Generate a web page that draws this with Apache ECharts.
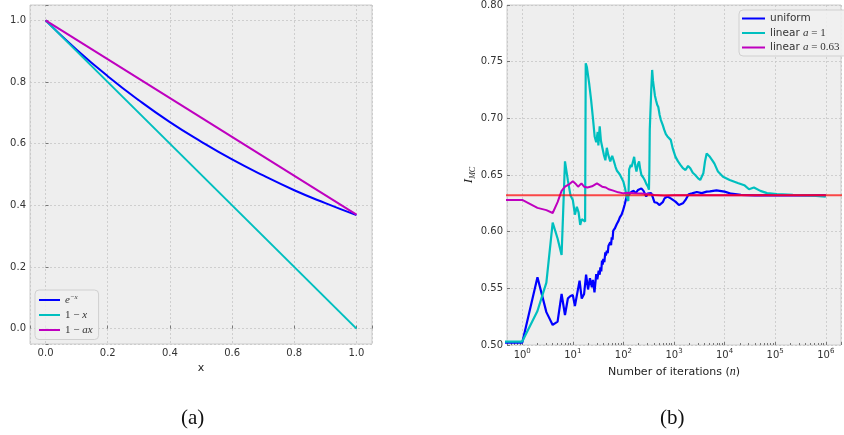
<!DOCTYPE html>
<html>
<head>
<meta charset="utf-8">
<script src="https://cdn.jsdelivr.net/npm/echarts@6/dist/echarts.min.js"></script>
<style>
  html, body { margin: 0; padding: 0; background: #fff; }
  #chart { width: 844px; height: 435px; }
</style>
</head>
<body>
<div id="chart"></div>
<script>
// (a) integrand and the two sampling densities on [0, 1]
const xs = [0, 0.1, 0.2, 0.3, 0.4, 0.5, 0.6, 0.7, 0.8, 0.9, 1.0];
const expVals = [1.0, 0.905, 0.819, 0.741, 0.670, 0.607, 0.549, 0.497, 0.449, 0.407, 0.368];
const lineXs = [0, 1];
const oneMinusX = [1, 0];
const oneMinusAx = [1, 0.37];

// (b) running estimate vs number of iterations
const uniformN = [0.3, 1, 2, 3, 4, 5, 6, 7, 8, 9, 10, 11, 13.6, 15, 16.7, 18.3, 20, 21.8, 23.8, 25, 26.8, 29, 30.5, 32.5, 34, 35, 36.5, 37.7, 39, 40, 42, 43.8, 45, 47, 49, 50.7, 53, 55, 57, 58.8, 61, 63, 68, 74, 80, 85, 92, 98, 106, 116, 130, 138, 145, 160, 175, 195, 210, 226, 250, 282, 300, 320, 354, 380, 410, 460, 512, 551, 600, 650, 742, 800, 861, 1070, 1250, 1340, 1500, 1690, 1810, 1950, 2270, 2820, 3540, 4420, 5120, 6900, 7430, 10000, 13500, 21000, 40000, 100000, 1000000];
const uniformI = [0.502, 0.502, 0.5597, 0.529, 0.5177, 0.5206, 0.545, 0.5265, 0.5412, 0.5432, 0.544, 0.5344, 0.5568, 0.541, 0.545, 0.562, 0.549, 0.559, 0.551, 0.5574, 0.5465, 0.5626, 0.558, 0.5656, 0.562, 0.5685, 0.565, 0.5744, 0.571, 0.5759, 0.573, 0.5818, 0.579, 0.5832, 0.581, 0.5876, 0.586, 0.5906, 0.588, 0.595, 0.593, 0.601, 0.603, 0.6068, 0.6095, 0.6126, 0.615, 0.6185, 0.624, 0.631, 0.633, 0.6345, 0.6353, 0.636, 0.634, 0.6368, 0.6355, 0.6382, 0.636, 0.631, 0.6335, 0.633, 0.634, 0.6305, 0.626, 0.6255, 0.6235, 0.622, 0.626, 0.6294, 0.631, 0.6298, 0.6294, 0.6265, 0.6235, 0.6238, 0.625, 0.628, 0.6294, 0.633, 0.6338, 0.635, 0.634, 0.6353, 0.6355, 0.6365, 0.636, 0.6353, 0.6335, 0.6325, 0.632, 0.6322, 0.6321];

const linearN = [0.3, 1, 2, 3, 4, 5, 6, 7, 8, 9, 10, 11, 12, 13, 14, 15, 16, 17.5, 18, 19, 21, 23, 25, 27, 29, 31, 32, 34, 36, 38, 41, 44, 47, 50, 55, 60, 64, 70, 74, 80, 86, 93, 100, 108, 116, 125, 130, 134, 140, 145, 155, 163, 172, 181, 192, 204, 215, 227, 245, 263, 285, 304, 320, 326, 332, 345, 355, 370, 385, 398, 420, 441, 465, 489, 520, 551, 600, 640, 690, 742, 800, 861, 950, 1070, 1200, 1340, 1500, 1690, 1900, 2100, 2350, 2630, 3000, 3300, 3800, 4100, 4420, 5120, 5900, 6300, 7400, 9300, 12600, 18200, 24500, 30400, 38000, 51000, 69000, 108000, 224000, 550000, 1000000];
const linearI = [0.503, 0.503, 0.530, 0.555, 0.608, 0.594, 0.5794, 0.662, 0.645, 0.632, 0.628, 0.615, 0.622, 0.617, 0.606, 0.611, 0.610, 0.609, 0.7485, 0.745, 0.731, 0.716, 0.700, 0.684, 0.679, 0.688, 0.676, 0.693, 0.680, 0.675, 0.668, 0.663, 0.674, 0.668, 0.662, 0.667, 0.663, 0.657, 0.654, 0.652, 0.650, 0.647, 0.644, 0.638, 0.631, 0.627, 0.655, 0.654, 0.659, 0.657, 0.662, 0.666, 0.658, 0.653, 0.659, 0.662, 0.655, 0.650, 0.648, 0.6456, 0.642, 0.640, 0.637, 0.655, 0.690, 0.691, 0.725, 0.7427, 0.733, 0.728, 0.720, 0.716, 0.712, 0.710, 0.703, 0.6985, 0.694, 0.690, 0.686, 0.684, 0.683, 0.681, 0.673, 0.666, 0.662, 0.659, 0.656, 0.6544, 0.658, 0.656, 0.652, 0.650, 0.647, 0.6456, 0.6515, 0.662, 0.669, 0.666, 0.662, 0.660, 0.653, 0.6485, 0.6456, 0.643, 0.641, 0.6374, 0.639, 0.636, 0.634, 0.6332, 0.6324, 0.6318, 0.631];

const linearAN = [0.3, 1, 2, 3, 4, 5, 6, 7, 8.6, 10, 11.5, 12.7, 14.8, 16.7, 19.5, 21, 24, 26, 30, 32.5, 38, 45, 51, 63, 79, 100, 125, 168, 226, 304, 410, 640, 1000, 1000000];
const linearAI = [0.628, 0.628, 0.621, 0.619, 0.6165, 0.626, 0.636, 0.6397, 0.642, 0.6444, 0.642, 0.6397, 0.6426, 0.6397, 0.639, 0.6376, 0.640, 0.6397, 0.6426, 0.6415, 0.6397, 0.639, 0.6374, 0.6362, 0.6347, 0.6338, 0.6344, 0.6338, 0.6336, 0.6332, 0.6324, 0.6318, 0.6321, 0.6321];

const exactN = [0.3, 3000000];
const exactI = [0.6321, 0.6321];

const yTicksB = [0.5, 0.8];

const zip = (a, b) => a.map((v, i) => [v, b[i]]);

const SANS = 'DejaVu Sans';
const SERIF = 'Liberation Serif';
const BLUE = '#0000ff', CYAN = '#00bfbf', MAGENTA = '#bf00bf';

const gridStyle = { show: true, lineStyle: { color: '#c6c6c6', width: 0.8, type: [2, 2] } };
const tickLabel = { color: '#333', fontFamily: SANS, fontSize: 10 };
const onGrid = (v, step) => Math.abs(v / step - Math.round(v / step)) < 1e-6;

const chart = echarts.init(document.getElementById('chart'));

chart.setOption({
  animation: false,
  backgroundColor: '#ffffff',
  grid: [
    { left: 30, right: 472, top: 5, bottom: 91, show: true, backgroundColor: '#eeeeee', borderColor: '#cccccc', borderWidth: 1 },
    { left: 507, right: -5, top: 5, bottom: 90, show: true, backgroundColor: '#eeeeee', borderColor: '#cccccc', borderWidth: 1 }
  ],
  legend: [
    {
      data: ['e^-x', '1-x', '1-ax'],
      left: 35, top: 290, orient: 'vertical',
      icon: 'rect', itemWidth: 21, itemHeight: 2, itemGap: 4,
      padding: [4, 6, 4, 4],
      backgroundColor: 'rgba(240,240,240,0.9)', borderColor: '#d0d0d0', borderWidth: 1, borderRadius: 4,
      formatter: (name) => ({
        'e^-x': '{i|e}{sup|−x}',
        '1-x': '{r|1 − }{i|x}',
        '1-ax': '{r|1 − }{i|ax}'
      })[name],
      textStyle: {
        color: '#333',
        rich: {
          i: { fontFamily: SERIF, fontStyle: 'italic', fontSize: 11, lineHeight: 12 },
          r: { fontFamily: SERIF, fontSize: 11, lineHeight: 12 },
          sup: { fontFamily: SERIF, fontStyle: 'italic', fontSize: 7, lineHeight: 8, verticalAlign: 'top' }
        }
      }
    },
    {
      data: ['uniform', 'linear a=1', 'linear a=0.63'],
      left: 739, top: 10, orient: 'vertical',
      icon: 'rect', itemWidth: 23, itemHeight: 2, itemGap: 3.5,
      padding: [3, 8, 3, 3],
      backgroundColor: 'rgba(240,240,240,0.9)', borderColor: '#d0d0d0', borderWidth: 1, borderRadius: 4,
      formatter: (name) => ({
        'uniform': '{s|uniform}',
        'linear a=1': '{s|linear }{i|a}{r| = 1}',
        'linear a=0.63': '{s|linear }{i|a}{r| = 0.63}'
      })[name],
      textStyle: {
        color: '#333',
        rich: {
          s: { fontFamily: SANS, fontSize: 10.5, lineHeight: 12.5 },
          i: { fontFamily: SERIF, fontStyle: 'italic', fontSize: 11, lineHeight: 12.5 },
          r: { fontFamily: SERIF, fontSize: 11, lineHeight: 12.5 }
        }
      }
    }
  ],
  xAxis: [
    {
      gridIndex: 0, type: 'value', min: -0.05, max: 1.05, splitNumber: 5,
      name: 'x', nameLocation: 'middle', nameGap: 17,
      nameTextStyle: { fontFamily: SANS, fontSize: 11, color: '#222' },
      axisLine: { show: false },
      axisTick: { show: true, inside: true, length: 3, lineStyle: { color: '#777' } },
      axisLabel: Object.assign({}, tickLabel, { margin: 4, formatter: v => onGrid(v, 0.2) ? v.toFixed(1) : '' }),
      splitLine: gridStyle
    },
    {
      gridIndex: 1, type: 'log', logBase: 10, min: 0.5, max: 2000000,
      name: 'Number of iterations ({i|n})', nameLocation: 'middle', nameGap: 21,
      nameTextStyle: {
        fontFamily: SANS, fontSize: 11, color: '#222',
        rich: { i: { fontFamily: SERIF, fontStyle: 'italic', fontSize: 12 } }
      },
      axisLine: { show: false },
      axisTick: { show: true, inside: true, length: 3, lineStyle: { color: '#777' } },
      minorTick: { show: true, splitNumber: 9, length: 2, lineStyle: { color: '#777' } },
      axisLabel: {
        margin: 3,
        formatter: (v) => {
          const e = Math.log10(v);
          if (Math.abs(e - Math.round(e)) > 1e-6) return '';
          return '{b|10}{e|' + Math.round(e) + '}';
        },
        rich: {
          b: { color: '#333', fontFamily: SANS, fontSize: 10, lineHeight: 14 },
          e: { color: '#333', fontFamily: SANS, fontSize: 7, lineHeight: 8, verticalAlign: 'top' }
        }
      },
      splitLine: gridStyle
    }
  ],
  yAxis: [
    {
      gridIndex: 0, type: 'value', min: -0.05, max: 1.05, splitNumber: 5,
      axisLine: { show: false },
      axisTick: { show: true, inside: true, length: 3, lineStyle: { color: '#777' } },
      axisLabel: Object.assign({}, tickLabel, { margin: 4, formatter: v => onGrid(v, 0.2) ? v.toFixed(1) : '' }),
      splitLine: gridStyle
    },
    {
      gridIndex: 1, type: 'value', min: yTicksB[0], max: yTicksB[1], interval: 0.05,
      name: '{i|I}{sub|MC}', nameLocation: 'middle', nameGap: 30, nameRotate: 90,
      nameTextStyle: {
        color: '#222',
        rich: {
          i: { fontFamily: SERIF, fontStyle: 'italic', fontSize: 13, lineHeight: 16 },
          sub: { fontFamily: SERIF, fontStyle: 'italic', fontSize: 8, lineHeight: 10, verticalAlign: 'bottom' }
        }
      },
      axisLine: { show: false },
      axisTick: { show: true, inside: true, length: 3, lineStyle: { color: '#777' } },
      axisLabel: Object.assign({}, tickLabel, { margin: 4, formatter: v => v.toFixed(2) }),
      splitLine: gridStyle
    }
  ],
  series: [
    { name: 'e^-x', type: 'line', xAxisIndex: 0, yAxisIndex: 0, data: zip(xs, expVals), smooth: true,
      showSymbol: false, lineStyle: { color: BLUE, width: 2 }, itemStyle: { color: BLUE } },
    { name: '1-x', type: 'line', xAxisIndex: 0, yAxisIndex: 0, data: zip(lineXs, oneMinusX),
      showSymbol: false, lineStyle: { color: CYAN, width: 2 }, itemStyle: { color: CYAN } },
    { name: '1-ax', type: 'line', xAxisIndex: 0, yAxisIndex: 0, data: zip(lineXs, oneMinusAx),
      showSymbol: false, lineStyle: { color: MAGENTA, width: 2 }, itemStyle: { color: MAGENTA } },

    { name: 'uniform', type: 'line', xAxisIndex: 1, yAxisIndex: 1, data: zip(uniformN, uniformI),
      showSymbol: false, lineStyle: { color: BLUE, width: 2.2 }, itemStyle: { color: BLUE } },
    { name: 'linear a=1', type: 'line', xAxisIndex: 1, yAxisIndex: 1, data: zip(linearN, linearI),
      showSymbol: false, lineStyle: { color: CYAN, width: 2.2 }, itemStyle: { color: CYAN } },
    { name: 'linear a=0.63', type: 'line', xAxisIndex: 1, yAxisIndex: 1, data: zip(linearAN, linearAI),
      showSymbol: false, lineStyle: { color: MAGENTA, width: 2 }, itemStyle: { color: MAGENTA } },
    { name: 'exact', type: 'line', xAxisIndex: 1, yAxisIndex: 1, data: zip(exactN, exactI),
      showSymbol: false, lineStyle: { color: '#ff0000', width: 2, opacity: 0.7 }, itemStyle: { color: '#ff0000' } }
  ],
  graphic: [
    { type: 'text', left: 181, top: 408, style: { text: '(a)', fontFamily: SERIF, fontSize: 21, fill: '#111' } },
    { type: 'text', left: 660, top: 408, style: { text: '(b)', fontFamily: SERIF, fontSize: 21, fill: '#111' } }
  ]
});
</script>
</body>
</html>
